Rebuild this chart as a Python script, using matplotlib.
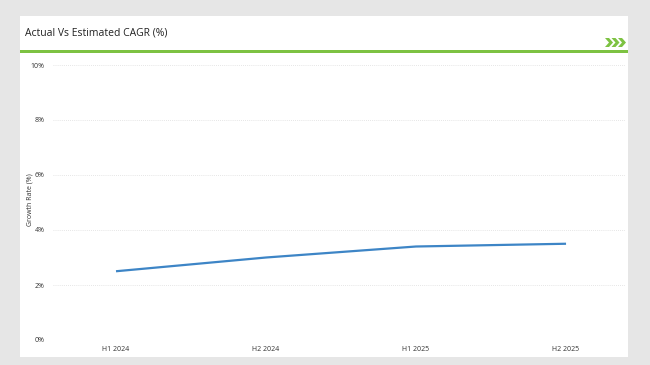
import matplotlib
matplotlib.use("Agg")
import matplotlib.pyplot as plt
from matplotlib.patches import Rectangle, Polygon
from matplotlib.ticker import FuncFormatter

periods = ["H1 2024", "H2 2024", "H1 2025", "H2 2025"]
growth = [2.5, 3.0, 3.4, 3.5]
y_ticks = [0, 2, 4, 6, 8, 10]

W, H = 650, 365
fig = plt.figure(figsize=(W / 100, H / 100), dpi=100)
fig.patch.set_facecolor("#e6e6e6")
plt.rcParams["font.family"] = ["Open Sans", "DejaVu Sans"]

def fx(px):
    return px / W

def fy(py):
    return 1 - py / H

# white card
fig.patches.append(Rectangle((fx(20), fy(357)), fx(628) - fx(20), fy(16) - fy(357),
                             transform=fig.transFigure, facecolor="white",
                             edgecolor="none", zorder=-5))
# green rule under title
fig.patches.append(Rectangle((fx(20), fy(53)), fx(628) - fx(20), fy(50) - fy(53),
                             transform=fig.transFigure, facecolor="#7dc242",
                             edgecolor="none", zorder=1))
# chevrons
for i in range(3):
    x0 = 605 + i * 6.5
    pts = [(x0, 38), (x0 + 4, 38), (x0 + 8, 42.5), (x0 + 4, 47), (x0, 47), (x0 + 4, 42.5)]
    fig.patches.append(Polygon([(fx(a), fy(b)) for a, b in pts], closed=True,
                               transform=fig.transFigure, facecolor="#7dc242",
                               edgecolor="none", zorder=1))

fig.text(fx(25), fy(33), "Actual Vs Estimated CAGR (%)", fontsize=7.5,
         color="#222222", va="center", ha="left")

ax = fig.add_axes([fx(53), fy(340), fx(625) - fx(53), fy(65) - fy(340)])
ax.set_zorder(5)
ax.set_facecolor("none")
x = list(range(len(periods)))
ax.plot(x, growth, color="#3d85c6", linewidth=1.6, solid_capstyle="butt")

ax.set_xlim(-0.42, 3.393)
ax.set_ylim(0, 10)
ax.set_yticks(y_ticks)
ax.yaxis.set_major_formatter(FuncFormatter(lambda v, p: f"{v:.0f}%"))
ax.set_xticks(x)
ax.set_xticklabels(periods)
ax.tick_params(axis="both", length=0, labelsize=5, labelcolor="#333333")
ax.tick_params(axis="y", pad=6)
ax.tick_params(axis="x", pad=4)
ax.grid(axis="y", color="#dddddd", linestyle=(0, (1, 1.5)), linewidth=0.6)
for s in ax.spines.values():
    s.set_visible(False)

fig.text(fx(30), fy(200), "Growth Rate (%)", rotation=90, fontsize=5,
         color="#333333", va="center", ha="center")

fig.savefig("out.png", dpi=100, facecolor=fig.get_facecolor())
